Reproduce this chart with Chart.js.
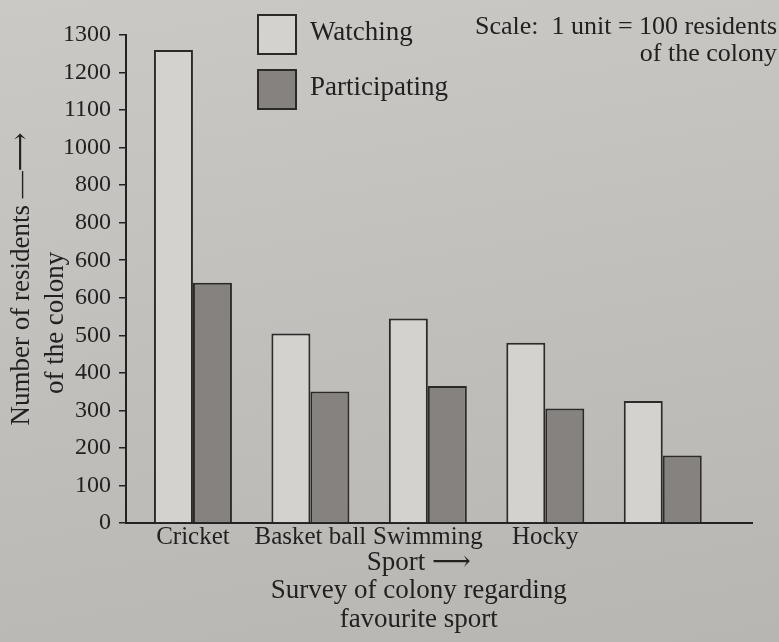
<!DOCTYPE html>
<html>
<head>
<meta charset="utf-8">
<script src="https://cdn.jsdelivr.net/npm/chart.js@4.4.1/dist/chart.umd.min.js"></script>
<style>
  html, body { margin: 0; padding: 0; }
  body {
    width: 779px; height: 642px; overflow: hidden;
    background: linear-gradient(170deg, #cbc9c6 0%, #c2c0bd 45%, #b8b6b3 100%);
  }
  #c { display: block; }
</style>
</head>
<body>
<canvas id="c" width="779" height="642"></canvas>
<script>
// ---- data ----
const categories = ["Cricket", "Basket ball", "Swimming", "Hocky", ""];
const watching = [1260, 505, 545, 480, 325];
const participating = [640, 350, 365, 305, 180];
// tick labels exactly as printed (0 .. 1300 in steps of 100)
const yTickLabels = ["0", "100", "200", "300", "400", "500", "600", "600", "800", "800", "1000", "1100", "1200", "1300"];
const seriesNames = ["Watching", "Participating"];

const SERIF = "'Liberation Serif', 'DejaVu Serif', serif";
const INK = '#232120';

const overlayPlugin = {
  id: 'overlay',
  afterDraw(chart) {
    const ctx = chart.ctx;
    ctx.save();
    // legend
    const boxes = [{ y: 15 }, { y: 70 }];
    chart.data.datasets.forEach((ds, i) => {
      const y = boxes[i].y;
      ctx.fillStyle = ds.backgroundColor;
      ctx.fillRect(258, y, 38, 39);
      ctx.lineWidth = 2;
      ctx.strokeStyle = ds.borderColor;
      ctx.strokeRect(258, y, 38, 39);
      ctx.fillStyle = INK;
      ctx.font = "27px " + SERIF;
      ctx.textAlign = 'left';
      ctx.textBaseline = 'middle';
      ctx.fillText(ds.label, 310, y + 18);
    });
    // scale note
    ctx.font = "26px " + SERIF;
    ctx.textAlign = 'right';
    ctx.textBaseline = 'middle';
    ctx.fillStyle = INK;
    ctx.fillText("Scale:  1 unit = 100 residents", 777, 27);
    ctx.fillText("of the colony", 777, 54);
    ctx.restore();
  }
};

new Chart(document.getElementById('c'), {
  type: 'bar',
  data: {
    datasets: [
      {
        label: seriesNames[0],
        data: watching.map((v, i) => ({ x: i, y: v })),
        backgroundColor: '#d4d2cf',
        borderColor: '#2b2a28',
        borderWidth: 2
      },
      {
        label: seriesNames[1],
        data: participating.map((v, i) => ({ x: i, y: v })),
        backgroundColor: '#85827f',
        borderColor: '#2b2a28',
        borderWidth: 2
      }
    ]
  },
  options: {
    responsive: false,
    animation: false,
    layout: { padding: { top: 35, right: 27, bottom: 0, left: 0 } },
    datasets: { bar: { categoryPercentage: 0.664, barPercentage: 1.0 } },
    plugins: {
      legend: { display: false },
      tooltip: { enabled: false }
    },
    scales: {
      x: {
        type: 'linear',
        offset: false,
        min: -0.57,
        max: 4.76,
        afterFit(scale) { scale.height = 119; },
        grid: { display: false },
        border: { display: true, color: '#222', width: 2 },
        ticks: {
          stepSize: 1,
          includeBounds: false,
          autoSkip: false,
          maxRotation: 0,
          padding: -9,
          color: INK,
          font: { family: SERIF, size: 25 },
          callback: (v) => (Number.isInteger(v) && categories[v] !== undefined) ? categories[v] : ''
        },
        title: {
          display: true,
          text: ["Sport \u27F6      ", "Survey of colony regarding      ", "favourite sport      "],
          color: INK,
          font: { family: SERIF, size: 27, lineHeight: 1.06 },
          padding: { top: 0, bottom: 8 }
        }
      },
      y: {
        min: 0,
        max: 1300,
        afterFit(scale) { scale.width = 126; },
        grid: {
          display: true,
          drawOnChartArea: false,
          drawTicks: true,
          tickLength: 7,
          color: '#222',
          lineWidth: 1.5
        },
        border: { display: true, color: '#222', width: 2 },
        ticks: {
          stepSize: 100,
          padding: 8,
          color: INK,
          font: { family: SERIF, size: 24 },
          callback: (v) => yTickLabels[Math.round(v / 100)]
        },
        title: {
          display: true,
          text: ["Number of residents \u2014\u27F6", "of the colony             "],
          color: INK,
          font: { family: SERIF, size: 27, lineHeight: 1.25 },
          padding: { top: 5 }
        }
      }
    }
  },
  plugins: [overlayPlugin]
});
</script>
</body>
</html>
